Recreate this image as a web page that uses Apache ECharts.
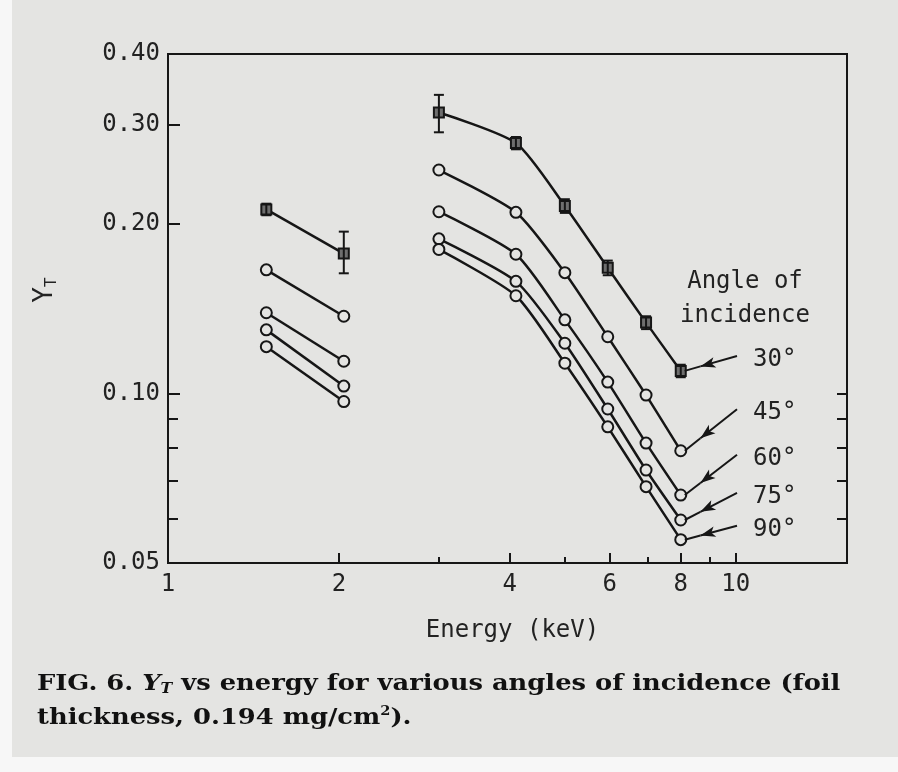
<!DOCTYPE html>
<html><head><meta charset="utf-8">
<script src="https://cdn.jsdelivr.net/npm/echarts@6/dist/echarts.min.js"></script>
<style>html,body{margin:0;padding:0;background:#fff}#c{width:898px;height:772px}</style>
</head><body><div id="c"></div>
<script>
// ---- data ----
const energyLow = [1.49, 2.04];
const energyHigh = [3.0, 4.1, 5.0, 5.95, 6.95, 8.0];
const angleLabels = ['30°', '45°', '60°', '75°', '90°'];
const y30Low = [0.212, 0.177];
const y30High = [0.315, 0.278, 0.215, 0.167, 0.1335, 0.1096];
const y45Low = [0.1656, 0.137];
const y45High = [0.249, 0.2095, 0.1637, 0.126, 0.0993, 0.0791];
const y60Low = [0.139, 0.114];
const y60High = [0.210, 0.1765, 0.135, 0.1047, 0.0816, 0.066];
const y75Low = [0.1296, 0.103];
const y75High = [0.188, 0.158, 0.1227, 0.0938, 0.0731, 0.0596];
const y90Low = [0.121, 0.0967];
const y90High = [0.180, 0.149, 0.1131, 0.0872, 0.0683, 0.055];
// 30° error bars
const err30LowMin = [0.207, 0.1633];
const err30LowMax = [0.217, 0.1936];
const err30HighMin = [0.2905, 0.271, 0.209, 0.162, 0.130, 0.1068];
const err30HighMax = [0.3385, 0.285, 0.221, 0.172, 0.137, 0.1124];
// axis ticks
const yLabelValues = [0.05, 0.10, 0.20, 0.30, 0.40];
const yMajorTickValues = [0.10, 0.20, 0.30];
const yMinorTickValues = [0.06, 0.07, 0.08, 0.09];
const yRightTickValues = [0.06, 0.07, 0.08, 0.09, 0.10];
const xLabelValues = [1, 2, 4, 6, 8, 10];
const xMajorTickValues = [2, 4, 6, 8, 10];
const xMinorTickValues = [3, 5, 7, 9];
// annotation arrows: start points (label side), in data units
const arrowStartX = 10.05;
const arrowStartY = [0.1165, 0.0937, 0.0778, 0.0666, 0.0582];

const lowSets = [y30Low, y45Low, y60Low, y75Low, y90Low];
const highSets = [y30High, y45High, y60High, y75High, y90High];

const INK = '#161616';
const BG = '#e4e4e2';
const mono = '"DejaVu Sans Mono", monospace';

const chart = echarts.init(document.getElementById('c'), null, {renderer: 'canvas'});

function logLerp(a, b, t) {
  return Math.pow(10, Math.log10(a) + t * (Math.log10(b) - Math.log10(a)));
}

const series = [];
lowSets.forEach((ys, i) => {
  const isSq = i === 0;
  const sym = {
    symbol: isSq ? 'rect' : 'circle',
    symbolSize: isSq ? 10 : 11,
    itemStyle: {color: isSq ? '#6e6e6e' : BG, borderColor: INK, borderWidth: 2},
  };
  series.push(Object.assign({
    type: 'line', name: angleLabels[i] + ' low',
    data: energyLow.map((e, k) => [e, ys[k]]),
    lineStyle: {color: INK, width: 2.5}, z: 3, silent: true
  }, sym));
  const hs = highSets[i];
  const endX = 8.13, endY = hs[hs.length - 1];
  const midX = logLerp(arrowStartX, endX, 0.7), midY = logLerp(arrowStartY[i], endY, 0.7);
  series.push(Object.assign({
    type: 'line', name: angleLabels[i],
    data: energyHigh.map((e, k) => [e, hs[k]]),
    smooth: 0.22,
    lineStyle: {color: INK, width: 2.5}, z: 3, silent: true,
    markLine: {
      silent: true, symbol: ['none', 'none'],
      lineStyle: {color: INK, width: 2, type: 'solid'},
      label: {show: false},
      data: [
        [{coord: [arrowStartX, arrowStartY[i]], symbol: 'none'}, {coord: [midX, midY], symbol: 'arrow', symbolSize: [8, 15]}],
        [{coord: [midX, midY], symbol: 'none'}, {coord: [endX, endY], symbol: 'none'}]
      ]
    }
  }, sym));
});

function errItem(params, api) {
  const x = api.value(0), lo = api.value(1), hi = api.value(2);
  const p1 = api.coord([x, lo]);
  const p2 = api.coord([x, hi]);
  const cw = 5;
  const st = {stroke: INK, lineWidth: 2};
  return {type: 'group', children: [
    {type: 'line', shape: {x1: p1[0], y1: p1[1], x2: p2[0], y2: p2[1]}, style: st},
    {type: 'line', shape: {x1: p1[0] - cw, y1: p1[1], x2: p1[0] + cw, y2: p1[1]}, style: st},
    {type: 'line', shape: {x1: p2[0] - cw, y1: p2[1], x2: p2[0] + cw, y2: p2[1]}, style: st}
  ]};
}
series.push({
  type: 'custom', name: 'err30', z: 5, silent: true,
  renderItem: errItem,
  data: energyLow.map((e, k) => [e, err30LowMin[k], err30LowMax[k]])
    .concat(energyHigh.map((e, k) => [e, err30HighMin[k], err30HighMax[k]]))
});

const tickStyle = {color: INK, width: 2};
const option = {
  backgroundColor: BG,
  animation: false,
  grid: {left: 168, top: 54, width: 679, height: 509, show: true, borderColor: INK, borderWidth: 2, backgroundColor: 'transparent'},
  xAxis: [{
    type: 'log', min: 1, max: 15.7, logBase: 10,
    axisLine: {show: true, lineStyle: {color: INK, width: 2}},
    axisTick: {show: true, inside: true, length: 10, lineStyle: tickStyle, customValues: xMajorTickValues},
    minorTick: {show: false},
    axisLabel: {show: true, customValues: xLabelValues, color: '#222', fontFamily: mono, fontSize: 24, margin: 10,
      formatter: v => String(Math.round(v))},
    splitLine: {show: false},
    name: 'Energy (keV)', nameLocation: 'middle', nameGap: 56,
    nameTextStyle: {color: '#222', fontFamily: mono, fontSize: 24, padding: [0, 0, 0, 10]}
  }, {
    type: 'log', min: 1, max: 15.7, logBase: 10, position: 'bottom',
    axisLine: {show: false},
    axisTick: {show: true, inside: true, length: 6, lineStyle: tickStyle, customValues: xMinorTickValues},
    minorTick: {show: false},
    axisLabel: {show: false},
    splitLine: {show: false}
  }],
  yAxis: [{
    type: 'log', min: 0.05, max: 0.4, logBase: 10,
    axisLine: {show: true, lineStyle: {color: INK, width: 2}},
    axisTick: {show: true, inside: true, length: 12, lineStyle: tickStyle, customValues: yMajorTickValues},
    minorTick: {show: false},
    axisLabel: {show: true, customValues: yLabelValues, color: '#222', fontFamily: mono, fontSize: 24, margin: 8,
      formatter: v => Number(v).toFixed(2)},
    splitLine: {show: false}
  }, {
    type: 'log', min: 0.05, max: 0.4, logBase: 10, position: 'left',
    axisLine: {show: false},
    axisTick: {show: true, inside: true, length: 10, lineStyle: tickStyle, customValues: yMinorTickValues},
    minorTick: {show: false},
    axisLabel: {show: false},
    splitLine: {show: false}
  }, {
    type: 'log', min: 0.05, max: 0.4, logBase: 10, position: 'right',
    axisLine: {show: true, lineStyle: {color: INK, width: 2}},
    axisTick: {show: true, inside: true, length: 10, lineStyle: tickStyle, customValues: yRightTickValues},
    minorTick: {show: false},
    axisLabel: {show: false},
    splitLine: {show: false}
  }],
  series: series,
  graphic: []
};
chart.setOption(option);

// text annotations
const g = [];
g.push({type: 'rect', shape: {x: 0, y: 0, width: 12, height: 772}, style: {fill: '#f7f7f7'}, z: 0});
g.push({type: 'rect', shape: {x: 0, y: 757, width: 898, height: 15}, style: {fill: '#f7f7f7'}, z: 0});
g.push({type: 'text', x: 745, y: 299, style: {text: 'Angle of\nincidence', font: '24px ' + mono, fill: '#222', align: 'center', verticalAlign: 'middle', lineHeight: 34}});
angleLabels.forEach((lab, i) => {
  const p = chart.convertToPixel({xAxisIndex: 0, yAxisIndex: 0}, [arrowStartX, arrowStartY[i]]);
  g.push({type: 'text', x: p[0] + 16, y: p[1] + 4, style: {text: lab, font: '24px ' + mono, fill: '#222', align: 'left', verticalAlign: 'middle'}});
});
g.push({type: 'text', x: 45, y: 290, rotation: Math.PI / 2, style: {
  text: '{y|Y}{s|T}', align: 'center', verticalAlign: 'middle',
  rich: {y: {font: '26px ' + mono, fill: '#222'}, s: {font: '16px ' + mono, fill: '#222', padding: [14, 0, 0, 0]}}
}});
g.push({type: 'text', x: 37, y: 684, scaleX: 1.12, originX: 0, originY: 0, style: {
  text: '{b|FIG. 6. }{i|Y}{is|T}{b| vs energy for various angles of incidence (foil}',
  verticalAlign: 'middle', align: 'left',
  rich: {
    b: {font: 'bold 23px "DejaVu Serif", serif', fill: '#111'},
    i: {font: 'italic bold 23px "DejaVu Serif", serif', fill: '#111'},
    is: {font: 'italic bold 14px "DejaVu Serif", serif', fill: '#111', padding: [10, 0, 0, 0]}
  }
}});
g.push({type: 'text', x: 37, y: 718, scaleX: 1.12, originX: 0, originY: 0, style: {
  text: '{b|thickness, 0.194 mg/cm}{sup|2}{b|).}',
  verticalAlign: 'middle', align: 'left',
  rich: {
    b: {font: 'bold 23px "DejaVu Serif", serif', fill: '#111'},
    sup: {font: 'bold 13px "DejaVu Serif", serif', fill: '#111', padding: [0, 0, 12, 0]}
  }
}});
chart.setOption({graphic: g});
</script></body></html>
